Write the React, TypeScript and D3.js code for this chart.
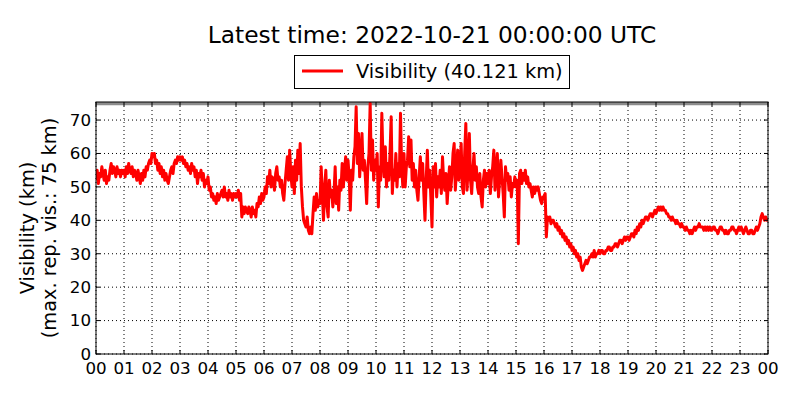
import React from "react";
import * as d3 from "d3";

const titleText = "Latest time: 2022-10-21 00:00:00 UTC";
const legendLabel = "Visibility (40.121 km)";
const yLabel1 = "Visibility (km)";
const yLabel2 = "(max. rep. vis.: 75 km)";
const maxRepVis = 75;
const yTicks = [0, 10, 20, 30, 40, 50, 60, 70];
const xTickLabels = ["00","01","02","03","04","05","06","07","08","09","10","11","12","13","14","15","16","17","18","19","20","21","22","23","00"];

// 2.5-minute readings per hour (km)
const h00 = [52, 55, 51, 54, 53, 56, 54, 52, 55, 51, 53, 52, 55, 57, 54, 56, 55, 53, 56, 54, 55, 53, 55, 54];
const h01 = [55, 53, 56, 54, 57, 55, 54, 56, 53, 55, 54, 52, 55, 53, 51, 54, 52, 55, 53, 56, 55, 57, 58, 57];
const h02 = [60, 59, 60, 57, 58, 55, 57, 54, 56, 53, 55, 52, 54, 52, 51, 53, 55, 56, 54, 57, 58, 57, 59, 58];
const h03 = [59, 58, 59, 57, 58, 56, 57, 55, 56, 54, 57, 55, 56, 53, 55, 51, 54, 53, 55, 52, 54, 50, 52, 51];
const h04 = [53, 49, 50, 47, 48, 46, 47, 45, 48, 46, 47, 48, 49, 47, 50, 47, 48, 46, 49, 47, 48, 46, 48, 47];
const h05 = [48, 47, 49, 46, 48, 41, 44, 42, 44, 43, 42, 44, 43, 41, 44, 42, 43, 41, 45, 44, 47, 45, 48, 46];
const h06 = [47, 50, 48, 53, 51, 55, 50, 53, 52, 49, 54, 56, 52, 53, 50, 52, 48, 46, 51, 55, 59, 52, 61, 54];
const h07 = [50, 56, 48, 58, 52, 61, 54, 63, 50, 44, 40, 39, 38, 41, 37, 36, 38, 36, 42, 47, 43, 48, 44, 46];
const h08 = [45, 56, 48, 40, 50, 55, 44, 41, 52, 47, 49, 44, 48, 56, 45, 50, 43, 52, 49, 57, 50, 55, 59, 52];
const h09 = [58, 53, 43, 55, 52, 59, 62, 74, 57, 66, 53, 60, 66, 55, 58, 52, 45, 56, 60, 75, 55, 64, 52, 58];
const h10 = [55, 60, 44, 56, 52, 72, 58, 53, 62, 50, 57, 52, 60, 71, 48, 55, 52, 60, 50, 57, 53, 72, 56, 50];
const h11 = [60, 50, 56, 58, 65, 56, 64, 52, 57, 50, 55, 49, 46, 53, 59, 52, 57, 48, 40, 52, 61, 50, 55, 47];
const h12 = [38, 56, 50, 57, 47, 53, 50, 55, 48, 59, 52, 49, 54, 45, 51, 56, 49, 53, 60, 63, 49, 55, 61, 52];
const h13 = [56, 63, 50, 48, 60, 69, 49, 56, 66, 52, 48, 55, 60, 52, 56, 50, 48, 54, 47, 44, 52, 55, 50, 54];
const h14 = [51, 55, 48, 53, 56, 61, 49, 55, 60, 47, 52, 58, 53, 48, 41, 56, 52, 54, 49, 53, 47, 51, 50, 53];
const h15 = [50, 52, 33, 54, 55, 51, 54, 52, 55, 51, 53, 50, 51, 49, 47, 50, 48, 50, 49, 50, 48, 46, 45, 47];
const h16 = [47, 48, 35, 41, 40, 41, 39, 40, 40, 39, 38, 39, 37, 38, 36, 37, 35, 36, 34, 35, 33, 34, 32, 33];
const h17 = [31, 32, 30, 31, 29, 30, 28, 29, 26, 25, 26, 27, 28, 27, 28, 29, 29, 30, 29, 31, 29, 30, 30, 31];
const h18 = [30, 31, 31, 30, 30, 31, 31, 32, 32, 31, 31, 32, 32, 33, 33, 32, 33, 34, 34, 33, 34, 35, 34, 35];
const h19 = [35, 34, 35, 36, 36, 35, 37, 36, 38, 37, 39, 38, 40, 39, 40, 41, 41, 40, 41, 42, 42, 41, 42, 43];
const h20 = [42, 43, 44, 43, 44, 43, 44, 43, 43, 42, 42, 41, 41, 40, 41, 40, 40, 39, 40, 39, 39, 38, 39, 38];
const h21 = [38, 37, 38, 37, 37, 36, 37, 36, 37, 38, 37, 38, 38, 39, 38, 38, 38, 37, 38, 37, 38, 37, 38, 37];
const h22 = [37, 38, 38, 37, 37, 36, 37, 38, 38, 37, 37, 36, 37, 36, 36, 37, 37, 38, 38, 37, 37, 36, 37, 38];
const h23 = [37, 38, 37, 36, 37, 38, 37, 36, 36, 37, 37, 36, 36, 37, 38, 37, 38, 39, 41, 42, 41, 40, 41, 40];
const lastValue = 40.121;

const hours = [h00,h01,h02,h03,h04,h05,h06,h07,h08,h09,h10,h11,h12,h13,h14,h15,h16,h17,h18,h19,h20,h21,h22,h23];

export default function App() {
  const W = 800, H = 400;
  const left = 96, right = 768, top = 102, bottom = 354;
  const x = d3.scaleLinear().domain([0, 24]).range([left, right]);
  const y = d3.scaleLinear().domain([0, 75.4]).range([bottom, top]);

  const pts: [number, number][] = [];
  hours.forEach((arr, h) => {
    arr.forEach((v, i) => pts.push([h + i / arr.length, v]));
  });
  pts.push([24, lastValue]);

  const line = d3.line<[number, number]>().x(d => x(d[0])).y(d => y(d[1]));
  const font = "'DejaVu Sans', sans-serif";
  const fsTick = 16.7;
  const fsLabel = 19.4;
  const fsTitle = 23.3;

  React.useEffect(() => { document.body.style.margin = "0"; }, []);

  return (
    <svg width={W} height={H} style={{ position: "absolute", left: 0, top: 0, background: "#fff" }} fontFamily={font}>
      <defs>
        <clipPath id="plotclip">
          <rect x={left} y={top} width={right - left} height={bottom - top} />
        </clipPath>
      </defs>
      <rect x={0} y={0} width={W} height={H} fill="#fff" />
      {xTickLabels.map((_, i) => (
        <line key={"gx" + i} x1={x(i)} x2={x(i)} y1={top} y2={bottom} stroke="#000" strokeWidth={1} strokeDasharray="1,3" />
      ))}
      {yTicks.map(t => (
        <line key={"gy" + t} x1={left} x2={right} y1={y(t)} y2={y(t)} stroke="#000" strokeWidth={1} strokeDasharray="1,3" />
      ))}
      <line x1={left} x2={right} y1={y(maxRepVis)} y2={y(maxRepVis)} stroke="#8c8c8c" strokeWidth={4} clipPath="url(#plotclip)" />
      <path d={line(pts) || ""} fill="none" stroke="#ff0000" strokeWidth={3} strokeLinejoin="round" clipPath="url(#plotclip)" />
      {xTickLabels.map((_, i) => (
        <g key={"tx" + i}>
          <line x1={x(i)} x2={x(i)} y1={bottom} y2={bottom - 4} stroke="#000" />
          <line x1={x(i)} x2={x(i)} y1={top} y2={top + 4} stroke="#000" />
        </g>
      ))}
      {yTicks.map(t => (
        <g key={"ty" + t}>
          <line x1={left} x2={left + 4} y1={y(t)} y2={y(t)} stroke="#000" />
          <line x1={right} x2={right - 4} y1={y(t)} y2={y(t)} stroke="#000" />
        </g>
      ))}
      <rect x={left} y={top} width={right - left} height={bottom - top} fill="none" stroke="#000" strokeWidth={1} />
      {xTickLabels.map((lab, i) => (
        <text key={"lx" + i} x={x(i)} y={374} textAnchor="middle" fontSize={fsTick} fill="#000">{lab}</text>
      ))}
      {yTicks.map(t => (
        <text key={"ly" + t} x={91} y={y(t)} dy="0.35em" textAnchor="end" fontSize={fsTick} fill="#000">{t}</text>
      ))}
      <text transform={`translate(34,${(top + bottom) / 2}) rotate(-90)`} textAnchor="middle" fontSize={fsLabel} fill="#000">{yLabel1}</text>
      <text transform={`translate(56,${(top + bottom) / 2}) rotate(-90)`} textAnchor="middle" fontSize={fsLabel} fill="#000">{yLabel2}</text>
      <text x={(left + right) / 2} y={43} textAnchor="middle" fontSize={fsTitle} fill="#000">{titleText}</text>
      <rect x={294.5} y={55.5} width={275} height={33} fill="#fff" stroke="#000" strokeWidth={1} />
      <line x1={302} x2={343} y1={71} y2={71} stroke="#ff0000" strokeWidth={3} />
      <text x={356} y={78} fontSize={fsLabel} fill="#000">{legendLabel}</text>
    </svg>
  );
}
